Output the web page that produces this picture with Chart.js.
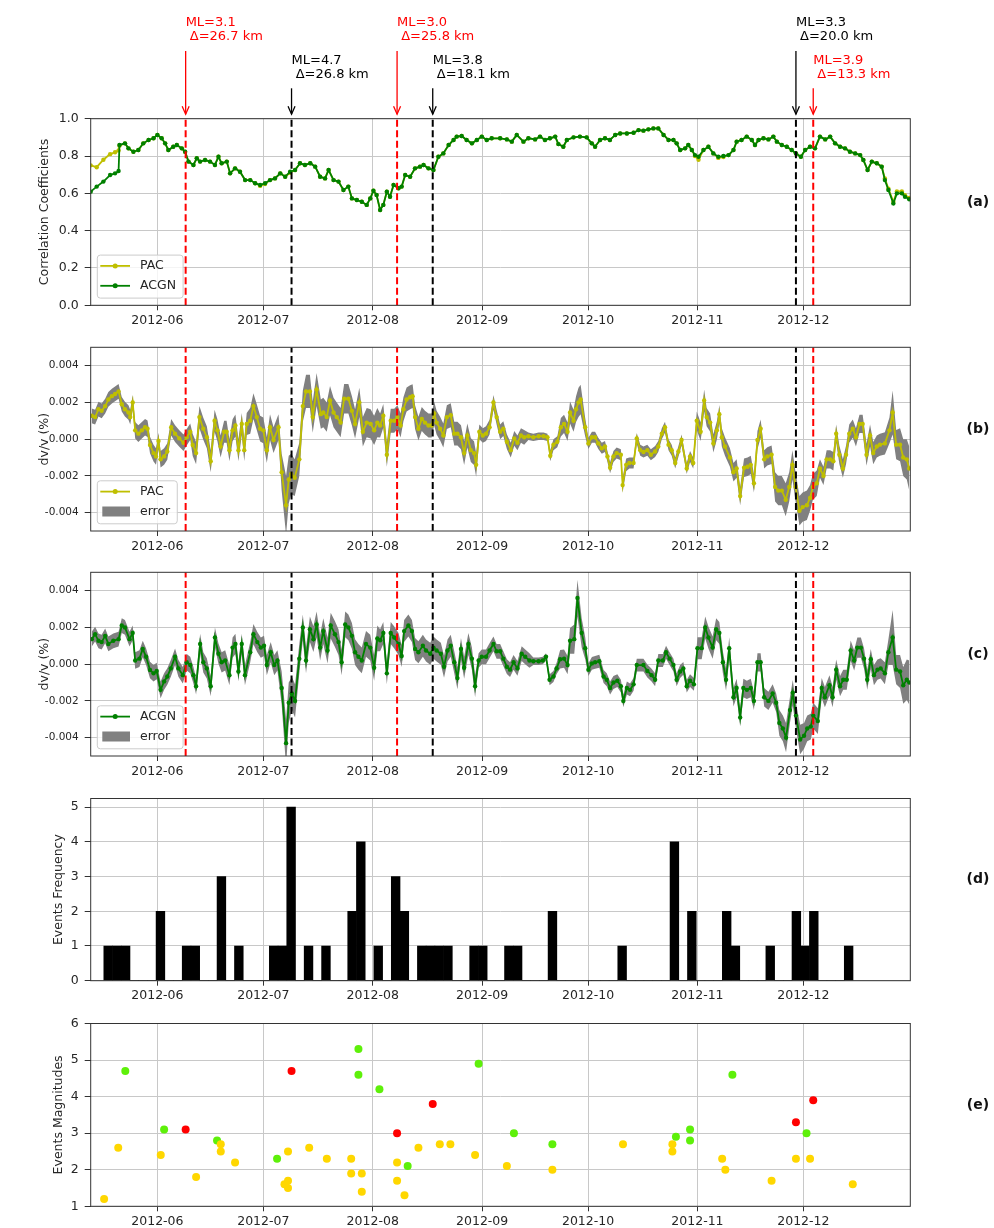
<!DOCTYPE html>
<html><head><meta charset="utf-8">
<script src="https://cdn.jsdelivr.net/npm/chart.js@4.4.1/dist/chart.umd.min.js"></script>
<style>
html,body{margin:0;padding:0;background:#fff;overflow:hidden;width:994px;height:1228px;position:relative}
canvas{position:absolute;left:0}
</style></head><body>
<canvas id="cA"></canvas><canvas id="cB"></canvas><canvas id="cC"></canvas><canvas id="cD"></canvas><canvas id="cE"></canvas>
<script>
// ===== DATA (x = days since 2012-06-01) =====
const xMinDay = -18.9, xMaxDay = 213.3;
const monthTickDays = [0, 30, 61, 92, 122, 153, 183];
const monthTickLabels = ['2012-06','2012-07','2012-08','2012-09','2012-10','2012-11','2012-12'];

// (a) correlation coefficients
const ccDays = [
-18.9,-17.2,-15.3,-13.4,-12.0,-11.0,-10.75,-9.2,-8.2,-6.8,
-5.4,-4.0,-2.5,-1.1,0.0,1.2,2.2,3.1,4.5,5.5,
6.9,7.85,8.8,10.2,11.15,12.1,13.5,14.9,16.3,17.3,
18.2,19.65,20.6,22.0,23.4,24.85,26.3,27.7,29.1,30.5,
31.9,33.3,34.8,36.2,37.6,39.0,40.4,41.8,43.3,44.7,
46.1,47.5,48.5,49.9,51.3,52.7,54.1,55.1,56.5,57.9,
59.3,60.3,61.2,62.1,63.1,64.0,65.0,65.9,66.9,68.3,
69.2,70.2,71.6,73.0,74.4,75.4,76.8,78.2,79.6,81.0,
82.5,83.9,84.8,86.2,87.6,89.1,90.5,91.9,93.3,94.7,
97.1,99.0,100.4,101.8,103.7,105.1,107.0,108.4,109.8,111.2,
112.7,113.6,115.0,116.0,117.9,119.7,121.6,123.05,124.0,125.4,
126.8,128.2,129.7,131.1,133.0,134.9,136.3,137.7,139.1,140.5,
141.9,143.4,144.8,146.2,147.1,148.1,149.5,150.4,151.4,152.3,
153.3,154.7,156.1,157.5,158.9,160.35,161.8,163.2,164.1,165.5,
166.95,168.4,169.3,170.3,171.7,173.1,174.5,175.5,176.9,178.3,
179.7,180.9,182.3,183.5,184.9,186.3,187.7,189.2,190.6,192.0,
193.4,194.8,196.2,197.7,199.1,200.0,201.2,202.4,203.8,205.2,
206.1,207.1,208.5,209.5,210.9,211.8,213.0];
const ccAcgn = [
.609,.636,.663,.698,.707,.72,.859,.868,.841,.823,
.832,.868,.886,.895,.913,.895,.868,.832,.85,.859,
.841,.823,.77,.752,.788,.77,.779,.77,.752,.796,
.761,.77,.707,.734,.716,.671,.671,.654,.645,.654,
.671,.68,.707,.689,.716,.725,.761,.752,.761,.743,
.689,.68,.725,.671,.663,.618,.636,.573,.564,.555,
.538,.573,.614,.591,.511,.538,.609,.582,.645,.627,
.636,.698,.689,.734,.743,.752,.734,.725,.796,.814,
.859,.886,.904,.907,.886,.868,.886,.904,.886,.895,
.895,.889,.877,.913,.877,.895,.889,.904,.886,.895,
.904,.864,.85,.886,.9,.904,.9,.868,.85,.886,
.895,.886,.913,.921,.921,.925,.939,.936,.943,.948,
.948,.913,.886,.886,.868,.832,.841,.859,.832,.805,
.796,.832,.85,.814,.796,.8,.805,.832,.877,.886,
.904,.886,.859,.886,.895,.889,.904,.877,.859,.85,
.832,.814,.796,.832,.85,.841,.904,.889,.904,.868,
.85,.841,.823,.814,.805,.779,.725,.77,.761,.743,
.671,.618,.546,.6,.6,.582,.568];
const ccPac = [
.75,.74,.78,.81,.82,.83,.855,.868,.841,.823,
.832,.868,.886,.895,.913,.895,.868,.832,.85,.859,
.841,.823,.77,.752,.788,.77,.779,.77,.752,.796,
.761,.77,.707,.734,.716,.671,.671,.654,.64,.65,
.671,.68,.707,.689,.71,.725,.761,.752,.761,.743,
.689,.68,.725,.671,.663,.618,.636,.573,.564,.555,
.538,.573,.614,.591,.511,.538,.609,.582,.645,.627,
.636,.698,.689,.734,.743,.752,.734,.725,.796,.814,
.859,.886,.904,.907,.886,.868,.886,.904,.886,.895,
.895,.889,.877,.913,.877,.895,.889,.904,.886,.895,
.904,.864,.85,.886,.9,.904,.9,.868,.85,.886,
.895,.886,.913,.921,.921,.925,.939,.936,.943,.948,
.948,.913,.886,.886,.868,.832,.841,.859,.832,.80,
.78,.832,.85,.814,.79,.795,.805,.832,.877,.886,
.904,.886,.859,.886,.895,.889,.904,.877,.859,.85,
.832,.814,.796,.832,.85,.841,.904,.889,.904,.868,
.85,.841,.823,.814,.805,.779,.725,.77,.761,.743,
.68,.625,.555,.61,.61,.59,.575];

// (b) PAC dv/v (values in units of 0.001 %)
const pacDays = [
-18.6,-17.65,-16.7,-15.8,-14.8,-13.9,-12.9,-12.0,-11.0,-10.1,
-9.2,-8.2,-7.7,-7.0,-6.3,-5.4,-4.4,-3.5,-2.8,-2.1,
-1.1,-0.4,0.3,0.9,1.9,2.8,3.9,5.0,6.2,7.4,
8.3,9.3,10.0,10.96,11.9,13.0,14.0,15.1,16.2,17.0,
17.9,18.9,19.6,20.4,21.3,22.1,22.95,23.9,24.6,25.3,
26.3,27.2,28.15,29.1,30.0,31.0,31.9,32.9,34.3,35.2,
36.45,37.2,37.9,38.9,40.2,41.2,42.1,43.2,44.0,45.1,
46.3,47.0,47.97,48.9,49.9,50.8,51.9,52.9,54.1,55.1,
56.0,57.2,58.2,59.3,60.4,61.4,62.3,63.1,64.0,65.0,
66.1,67.1,68.0,68.9,69.7,70.6,71.6,72.3,73.0,73.95,
74.9,75.8,76.8,77.7,78.4,79.1,80.1,81.0,82.0,83.1,
84.1,85.0,86.0,86.9,87.8,88.8,89.7,90.3,91.2,92.2,
93.1,94.1,95.2,96.1,97.1,98.0,99.0,100.1,101.1,102.0,
103.0,103.9,105.1,106.5,108.0,109.4,110.5,111.3,112.2,113.3,
114.3,115.2,116.2,116.9,117.9,118.6,119.3,119.9,121.2,122.1,
123.1,124.0,124.9,125.9,126.8,127.5,128.25,129.2,130.1,131.3,
131.8,132.8,133.7,134.9,135.8,136.8,137.7,138.8,139.8,141.0,
141.9,142.9,143.8,144.8,145.7,146.7,147.6,148.5,149.96,150.9,
151.8,152.8,153.9,154.9,155.6,156.6,157.5,158.5,159.2,159.9,
160.8,162.2,163.2,164.1,165.1,166.2,167.2,168.1,169.0,170.0,
170.9,171.9,172.8,174.0,175.0,175.9,176.9,178.0,179.0,179.9,
180.8,181.9,182.8,184.0,184.9,185.7,186.8,187.7,188.7,189.6,
190.6,191.5,192.3,193.2,194.2,195.1,196.0,197.0,197.9,198.9,
199.8,200.9,201.9,202.8,203.8,204.7,206.1,207.4,208.3,209.3,
210.4,211.3,212.3,213.0];
const pacDvMilli = [
1.27,1.2,1.63,1.54,1.8,2.16,2.34,2.46,2.6,1.9,
1.63,1.45,1.2,2.0,0.48,0.3,0.48,0.65,0.57,-0.32,
-0.76,-0.94,-0.1,-1.1,-0.94,-0.67,0.65,0.3,0.04,-0.2,
0.1,0.4,-0.32,-0.76,1.2,0.57,0.1,-1.2,1.0,0.48,
-0.4,0.4,0.4,-0.6,0.48,0.74,-0.6,0.83,-0.6,0.83,
1.0,1.8,1.2,0.57,0.48,-0.6,0.65,-0.05,0.65,-1.8,
-3.6,-2.2,-1.9,-2.1,-1.1,1.8,2.6,2.6,1.2,2.7,
1.36,1.45,1.2,2.1,1.45,1.2,0.9,2.2,2.2,1.54,
0.83,2.0,0.4,0.9,0.83,0.48,0.9,0.74,1.27,-0.85,
1.0,1.0,1.2,0.74,1.63,2.16,2.28,2.34,1.2,0.57,
1.1,0.9,0.74,0.74,1.4,0.9,0.57,0.2,1.2,1.3,
0.3,0.3,0.1,-0.76,0.2,-0.6,-0.76,-1.4,0.4,0.2,
0.3,0.65,2.0,1.2,0.4,0.57,-0.14,-0.6,0.04,-0.2,
0.2,0.1,0.16,0.1,0.16,0.16,0.1,-0.9,-0.3,-0.14,
0.65,0.83,0.4,1.45,1.0,1.63,2.0,2.16,0.65,-0.23,
0.1,0.1,-0.23,-0.5,-0.4,-0.94,-1.56,-0.94,-0.76,-0.85,
-2.5,-1.4,-1.3,-1.3,0.04,-0.6,-0.7,-0.6,-0.85,-0.67,
-0.4,0.3,0.65,-0.3,-0.6,-1.3,-0.67,-0.05,-1.6,-0.94,
-1.3,1.0,0.4,2.1,1.2,0.9,-0.23,0.48,1.36,0.1,
-0.4,-1.0,-1.8,-1.6,-3.1,-1.56,-1.5,-1.4,-2.4,-0.05,
0.57,-1.1,-0.94,-0.85,-2.6,-2.8,-2.8,-3.3,-2.6,-1.4,
-2.6,-3.9,-3.7,-3.6,-3.2,-2.6,-2.4,-1.6,-2.0,-1.1,
-1.1,-1.2,0.3,-0.85,-1.6,-0.85,0.3,0.57,0.1,0.83,
0.83,-0.85,0.2,-0.76,-0.4,-0.3,-0.23,0.48,1.45,-0.3,
-0.3,-1.0,-1.1,-1.6];
const pacErrMilli = [
0.4,0.4,0.4,0.4,0.4,0.4,0.4,0.4,0.4,0.4,
0.4,0.4,0.4,0.4,0.45,0.45,0.45,0.45,0.45,0.45,
0.45,0.45,0.45,0.45,0.45,0.45,0.45,0.45,0.45,0.45,
0.45,0.45,0.6,0.6,0.6,0.6,0.6,0.6,0.6,0.6,
0.6,0.6,0.6,0.6,0.6,0.6,0.6,0.6,0.6,0.6,
0.7,0.7,0.7,0.7,0.7,0.7,0.7,0.7,0.7,1.0,
1.6,1.3,1.1,1.0,0.9,0.85,0.9,0.9,0.85,0.9,
0.8,0.8,0.8,0.8,0.8,0.8,0.8,0.8,0.8,0.8,
0.8,0.8,0.8,0.8,0.8,0.8,0.8,0.65,0.65,0.65,
0.65,0.65,0.65,0.65,0.65,0.65,0.65,0.65,0.65,0.65,
0.65,0.65,0.65,0.65,0.65,0.65,0.65,0.65,0.65,0.65,
0.65,0.65,0.65,0.65,0.65,0.65,0.65,0.65,0.4,0.4,
0.4,0.4,0.4,0.4,0.4,0.4,0.4,0.4,0.4,0.4,
0.4,0.4,0.2,0.2,0.2,0.2,0.2,0.3,0.3,0.3,
0.5,0.5,0.5,0.6,0.6,0.7,0.8,0.8,0.5,0.3,
0.3,0.3,0.3,0.3,0.3,0.3,0.3,0.3,0.3,0.3,
0.4,0.35,0.3,0.3,0.3,0.3,0.3,0.3,0.3,0.3,
0.3,0.3,0.3,0.3,0.3,0.3,0.3,0.3,0.3,0.3,
0.3,0.5,0.5,0.6,0.5,0.5,0.5,0.5,0.5,0.5,
0.5,0.5,0.5,0.5,0.5,0.5,0.5,0.5,0.5,0.5,
0.5,0.5,0.5,0.5,0.8,0.8,0.8,0.9,0.8,0.8,
0.8,0.8,0.8,0.8,0.7,0.7,0.7,0.5,0.5,0.5,
0.5,0.5,0.5,0.5,0.5,0.5,0.5,0.5,0.5,0.5,
0.5,0.6,0.6,0.6,0.6,0.6,0.6,0.7,1.2,0.8,
0.9,1.0,1.1,1.2];

// (c) ACGN dv/v (values in units of 0.001 %)
const acgnDays = [
-18.6,-17.65,-16.7,-15.8,-14.8,-13.9,-12.5,-11.0,-10.1,-9.2,
-7.9,-7.0,-6.3,-5.1,-4.15,-3.2,-2.1,-1.1,-0.2,0.9,
1.9,2.8,3.8,5.0,5.95,7.2,8.3,9.3,10.2,10.96,
12.1,13.0,14.0,15.1,16.3,17.3,18.2,19.2,20.4,21.3,
22.1,22.95,23.9,24.8,26.3,27.2,28.3,29.3,30.2,31.0,
32.1,33.1,34.0,35.2,36.45,37.2,38.1,39.0,40.2,41.2,
42.1,43.2,44.2,45.1,46.1,47.0,48.2,49.1,50.3,51.3,
52.2,53.2,54.1,55.1,56.0,56.95,57.9,59.1,60.3,61.4,
62.3,63.1,64.0,65.0,66.1,67.1,68.3,69.2,69.9,71.1,
72.1,73.0,73.95,75.2,76.1,77.3,78.2,79.1,80.3,81.2,
82.2,83.1,84.1,85.0,86.0,86.9,88.1,89.1,90.0,91.0,
91.9,93.1,94.1,95.2,96.1,97.1,98.0,99.0,99.9,100.9,
102.0,103.2,104.2,105.4,106.5,108.0,109.2,110.1,111.1,112.2,
113.1,114.1,115.2,116.2,116.9,118.1,119.0,120.2,121.2,122.1,
123.1,124.0,125.2,126.4,127.3,128.25,129.2,130.3,131.3,132.0,
133.0,133.9,134.9,135.8,137.7,138.8,140.0,141.0,141.9,143.2,
144.1,145.1,146.2,147.1,148.1,149.0,149.96,150.9,152.0,153.0,
154.2,155.2,156.1,157.3,158.3,159.2,160.2,161.1,162.0,163.2,
164.1,165.1,166.0,167.0,168.1,169.0,170.0,170.9,171.9,173.1,
174.3,175.3,176.2,177.2,178.1,179.2,180.0,180.9,182.1,183.2,
184.1,185.1,185.8,187.1,188.2,189.1,190.4,191.3,192.3,193.4,
194.3,195.3,196.4,197.4,198.3,199.3,200.2,201.1,202.1,203.0,
204.0,204.9,206.1,207.1,208.3,209.3,210.4,211.3,212.3,213.0];
const acgnDvMilli = [
1.36,1.63,1.27,1.2,1.54,1.1,1.27,1.36,2.1,2.0,
1.36,1.7,0.2,0.3,0.83,0.4,-0.32,-0.5,-0.37,-1.4,
-0.94,-0.67,-0.23,0.4,-0.23,-0.6,0.1,-0.05,-0.6,-1.2,
1.1,0.1,-0.23,-1.2,1.45,0.57,0.1,0.2,-0.6,0.9,
1.1,-0.4,1.1,-0.6,0.65,1.63,1.2,0.9,1.0,-0.05,
0.65,-0.05,0.2,-1.3,-4.3,-2.1,-1.6,-2.0,0.3,2.0,
0.2,1.9,1.36,2.16,0.9,1.8,0.74,2.1,1.63,1.2,
0.1,2.16,2.0,1.54,0.65,0.4,0.2,1.1,0.9,-0.2,
1.4,1.3,1.7,-0.5,1.7,1.45,1.1,0.44,1.8,2.1,
1.8,0.83,0.65,1.0,0.74,0.57,0.9,0.74,0.57,-0.14,
0.74,1.0,0.1,-0.76,0.83,-0.2,1.1,0.3,-1.2,0.2,
0.4,0.4,0.74,1.1,0.7,0.7,0.3,-0.14,-0.3,0.1,
-0.23,0.57,0.4,0.2,0.16,0.16,0.2,0.4,-0.85,-0.67,
-0.23,0.27,0.3,-0.05,1.27,1.36,3.6,1.7,0.87,-0.3,
0.04,0.1,0.16,-0.67,-0.85,-1.3,-1.0,-0.9,-1.2,-2.0,
-1.3,-1.4,-1.1,-0.05,-0.05,-0.37,-0.6,-0.85,0.2,0.2,
0.65,0.3,-0.05,-0.85,-0.4,-0.23,-1.2,-0.9,-1.1,0.87,
0.87,2.0,1.45,0.9,1.9,1.7,0.1,-0.85,0.87,-1.8,
-1.3,-2.9,-1.3,-1.4,-1.3,-2.0,0.1,0.1,-1.8,-2.0,
-1.6,-2.1,-3.2,-3.5,-4.0,-2.5,-1.56,-2.8,-4.1,-3.9,
-3.5,-3.4,-2.8,-3.1,-1.3,-1.8,-1.15,-1.8,-0.3,-1.2,
-0.85,-0.85,0.74,0.2,0.9,0.9,0.3,-0.85,0.27,-0.6,
-0.3,-0.23,-0.5,0.65,1.45,-0.3,-0.4,-1.15,-0.85,-1.0];
const acgnErrMilli = [
0.4,0.4,0.4,0.4,0.4,0.4,0.4,0.4,0.4,0.4,
0.4,0.4,0.45,0.45,0.45,0.45,0.45,0.45,0.45,0.45,
0.45,0.45,0.45,0.45,0.45,0.45,0.45,0.45,0.45,0.45,
0.55,0.55,0.55,0.55,0.55,0.55,0.55,0.55,0.55,0.55,
0.55,0.55,0.55,0.55,0.55,0.55,0.55,0.55,0.55,0.55,
0.55,0.55,0.55,0.9,1.3,1.1,0.9,0.9,0.8,0.7,
0.7,0.7,0.7,0.7,0.7,0.7,0.7,0.7,0.7,0.7,
0.7,0.7,0.7,0.7,0.7,0.7,0.7,0.7,0.7,0.7,
0.7,0.6,0.6,0.6,0.6,0.6,0.6,0.6,0.6,0.6,
0.6,0.6,0.6,0.6,0.6,0.6,0.6,0.6,0.6,0.6,
0.6,0.6,0.6,0.6,0.6,0.6,0.6,0.6,0.6,0.4,
0.4,0.4,0.4,0.4,0.4,0.4,0.4,0.4,0.4,0.4,
0.4,0.4,0.4,0.4,0.2,0.2,0.2,0.2,0.3,0.3,
0.3,0.5,0.5,0.5,0.7,0.8,1.0,0.8,0.6,0.35,
0.35,0.35,0.35,0.35,0.35,0.35,0.35,0.35,0.35,0.35,
0.35,0.35,0.35,0.35,0.35,0.35,0.35,0.35,0.35,0.35,
0.35,0.35,0.35,0.35,0.35,0.35,0.35,0.35,0.35,0.6,
0.6,0.6,0.6,0.6,0.6,0.6,0.6,0.6,0.6,0.5,
0.5,0.5,0.5,0.5,0.5,0.5,0.5,0.5,0.5,0.5,
0.5,0.5,0.7,0.7,0.8,0.7,0.7,0.7,0.8,0.7,
0.7,0.7,0.7,0.7,0.55,0.55,0.55,0.55,0.55,0.55,
0.55,0.55,0.55,0.55,0.55,0.55,0.55,0.55,0.55,0.55,
0.55,0.55,0.6,0.7,1.5,0.8,0.9,1.0,1.1,1.2];

// (d) event frequency histogram
const histStartDay = -15.18, histBinDays = 2.468;
const histCounts = [
1,1,1,0,0,0,2,0,0,1,
1,0,0,3,0,1,0,0,0,1,
1,5,0,1,0,1,0,0,2,4,
0,1,0,3,2,0,1,1,1,1,
0,0,1,1,0,0,1,1,0,0,
0,2,0,0,0,0,0,0,0,1,
0,0,0,0,0,4,0,2,0,0,
0,2,1,0,0,0,1,0,0,2,
1,2,0,0,0,1];

// (e) event magnitudes
const evDays = [-15.1,-11.1,-9.1,0.95,1.9,8.0,10.96,16.9,17.95,17.95,22.0,33.9,36.0,37.0,37.0,37.0,38.0,43.0,48.0,54.9,
54.9,56.95,56.95,57.9,57.9,62.9,67.9,67.9,67.9,70.0,70.9,73.95,78.0,80.0,83.0,90.0,91.0,99.0,101.0,111.9,
111.9,131.9,145.9,145.9,146.9,150.9,150.9,160.0,160.9,162.9,174.0,180.9,180.9,183.9,184.9,185.8,197.0];
const evMag = [1.2,2.6,4.7,2.4,3.1,3.1,1.8,2.8,2.7,2.5,2.2,2.3,1.6,1.7,1.5,2.5,4.7,2.6,2.3,2.3,
1.9,5.3,4.6,1.9,1.4,4.2,3.0,2.2,1.7,1.3,2.1,2.6,3.8,2.7,2.7,2.4,4.9,2.1,3.0,2.7,
2.0,2.7,2.7,2.5,2.9,3.1,2.8,2.3,2.0,4.6,1.7,3.3,2.3,3.0,2.3,3.9,1.6];
const evClass = ['y','y','g','y','g','r','y','g','y','y','y','g','y','y','y','y','r','y','y','y',
'y','g','g','y','y','g','r','y','y','y','g','y','r','y','y','y','g','y','g','g',
'y','y','y','y','g','g','g','y','y','g','y','r','y','g','y','r','y'];

// marked earthquakes
const quakeDays = [8.0, 38.0, 67.9, 78.0, 180.9, 185.8];
const quakeML = ['3.1','4.7','3.0','3.8','3.3','3.9'];
const quakeDist = ['26.7','26.8','25.8','18.1','20.0','13.3'];
const quakeColor = ['r','k','r','k','k','r'];

// ===== STYLE =====
const FONT = "'DejaVu Sans', sans-serif";
const TXT = '#262626', GRID = '#c8c8c8', SPINE = '#333333';
const PAC_C = '#bfbf00', ACGN_C = '#008000', ERR_C = '#808080';
const LINE_COL = {r:'#ff0000', k:'#000000'};
const EV_COL = {y:'#ffd700', g:'#5ef00a', r:'#ff0000'};
const PLOT_LEFT = 90.7, PLOT_RIGHT = 910.3, W = 994, XAXIS_H = 24;

const PANELS = {
  A:{canvasTop:0,    canvasH:335, top:118.7,  bottom:305.3, ylabel:'Correlation Coefficients', ylabelX:45, tag:'(a)', yFont:12.5},
  B:{canvasTop:335,  canvasH:225, top:343.3,  bottom:531,   ylabel:'dv/v (%)', ylabelX:45, tag:'(b)', yFont:10.5},
  C:{canvasTop:560,  canvasH:225, top:568.3,  bottom:756,   ylabel:'dv/v (%)', ylabelX:45, tag:'(c)', yFont:10.5},
  D:{canvasTop:785,  canvasH:225, top:794,    bottom:980.7, ylabel:'Events Frequency', ylabelX:59, tag:'(d)', yFont:12.5},
  E:{canvasTop:1010, canvasH:225, top:1018.3, bottom:1206.3, ylabel:'Events Magnitudes', ylabelX:59, tag:'(e)', yFont:12.5}
};

function mkXScale(){
  return {
    type:'linear', min:xMinDay, max:xMaxDay, offset:false, bounds:'data',
    afterBuildTicks(s){ s.ticks = monthTickDays.map(v=>({value:v})); },
    afterFit(s){ s.height = XAXIS_H; },
    ticks:{autoSkip:false, maxRotation:0, minRotation:0, padding:3, color:TXT, font:{family:FONT, size:12.5},
      callback(v){ const i = monthTickDays.indexOf(v); return i < 0 ? '' : monthTickLabels[i]; }},
    grid:{color:GRID, lineWidth:1, drawTicks:true, tickLength:5, tickColor:SPINE, tickWidth:1, offset:false},
    border:{display:false}
  };
}
function mkYScale(p, min, max, vals, labels){
  return {
    type:'linear', min, max, bounds:'data',
    afterBuildTicks(s){ s.ticks = vals.map(v=>({value:v})); },
    afterFit(s){ s.width = PLOT_LEFT; },
    ticks:{padding:6, color:TXT, font:{family:FONT, size:p.yFont}, callback(v, i){ return labels[i]; }},
    grid:{color:GRID, lineWidth:1, drawTicks:true, tickLength:6, tickColor:SPINE, tickWidth:1},
    border:{display:false}
  };
}

function roundRect(ctx,x,y,w,h,r){
  ctx.beginPath(); ctx.moveTo(x+r,y); ctx.arcTo(x+w,y,x+w,y+h,r); ctx.arcTo(x+w,y+h,x,y+h,r);
  ctx.arcTo(x,y+h,x,y,r); ctx.arcTo(x,y,x+w,y,r); ctx.closePath();
}
function drawLegend(ctx, ca, items){
  ctx.save();
  ctx.font = `12.5px ${FONT}`;
  const left = ca.left + 6.6, bottom = ca.bottom - 7.2, h = 43;
  const textX = left + 42.7;
  const tw = Math.max(...items.map(it=>ctx.measureText(it.label).width));
  const w = textX - left + tw + 7;
  roundRect(ctx, left, bottom-h, w, h, 3);
  ctx.fillStyle = 'rgba(255,255,255,0.8)'; ctx.fill();
  ctx.strokeStyle = '#cccccc'; ctx.lineWidth = 1; ctx.stroke();
  const rows = [bottom-32.2, bottom-12.3];
  items.forEach((it,i)=>{
    const y = rows[i];
    if(it.kind === 'line'){
      ctx.strokeStyle = it.color; ctx.lineWidth = 1.8; ctx.beginPath();
      ctx.moveTo(left+3, y); ctx.lineTo(left+32.7, y); ctx.stroke();
      ctx.fillStyle = it.color; ctx.beginPath(); ctx.arc(left+17.9, y, 2.5, 0, Math.PI*2); ctx.fill();
    } else {
      ctx.fillStyle = it.color; ctx.fillRect(left+5, y-5, 27.7, 10);
    }
    ctx.fillStyle = TXT; ctx.textBaseline = 'middle'; ctx.textAlign = 'left';
    ctx.fillText(it.label, textX, y);
  });
  ctx.restore();
}

function decoPlugin(p, opts){
  return {
    id:'deco',
    afterDatasetsDraw(chart){
      const {ctx, chartArea:ca, scales:{x}} = chart;
      if(opts.eventLines){
        ctx.save(); ctx.beginPath(); ctx.rect(ca.left, ca.top, ca.right-ca.left, ca.bottom-ca.top); ctx.clip();
        quakeDays.forEach((d,i)=>{
          const px = x.getPixelForValue(d);
          ctx.strokeStyle = LINE_COL[quakeColor[i]]; ctx.lineWidth = 2; ctx.setLineDash([7,3.5]);
          ctx.beginPath(); ctx.moveTo(px, ca.bottom); ctx.lineTo(px, ca.top); ctx.stroke();
        });
        ctx.restore();
      }
      if(opts.legend) drawLegend(ctx, ca, opts.legend);
    },
    afterDraw(chart){
      const {ctx, chartArea:ca, scales:{x}} = chart;
      ctx.save();
      ctx.strokeStyle = SPINE; ctx.lineWidth = 1;
      ctx.strokeRect(ca.left, ca.top, ca.right-ca.left, ca.bottom-ca.top);
      const cy = (ca.top+ca.bottom)/2;
      ctx.save(); ctx.translate(p.ylabelX, cy); ctx.rotate(-Math.PI/2);
      ctx.font = `12.5px ${FONT}`; ctx.fillStyle = TXT; ctx.textAlign = 'center'; ctx.textBaseline = 'middle';
      ctx.fillText(p.ylabel, 0, 0); ctx.restore();
      ctx.font = `bold 14px ${FONT}`; ctx.fillStyle = '#111'; ctx.textAlign = 'center'; ctx.textBaseline = 'middle';
      ctx.fillText(p.tag, 978, cy - 10);
      if(opts.annotations){
        quakeDays.forEach((d,i)=>{
          const px = x.getPixelForValue(d);
          const col = LINE_COL[quakeColor[i]];
          const high = i % 2 === 0;
          const y1 = high ? 23 : 60.3;
          ctx.fillStyle = col; ctx.font = `13px ${FONT}`; ctx.textAlign = 'left'; ctx.textBaseline = 'middle';
          ctx.fillText('ML=' + quakeML[i], px, y1);
          ctx.fillText(' \u0394=' + quakeDist[i] + ' km', px, y1 + 14);
          const ys = high ? 51 : 88.3, tip = ca.top - 4.5;
          ctx.strokeStyle = col; ctx.lineWidth = 1.3; ctx.setLineDash([]);
          ctx.beginPath(); ctx.moveTo(px, ys); ctx.lineTo(px, tip); ctx.stroke();
          ctx.beginPath(); ctx.moveTo(px-3.5, tip-8); ctx.lineTo(px, tip); ctx.lineTo(px+3.5, tip-8); ctx.stroke();
        });
      }
      ctx.restore();
    }
  };
}

function baseOptions(p, yScale){
  return {
    responsive:false, maintainAspectRatio:false, animation:false, events:[],
    layout:{padding:{left:0, right:W-PLOT_RIGHT, top:p.top-p.canvasTop, bottom:(p.canvasTop+p.canvasH)-p.bottom-XAXIS_H}},
    plugins:{legend:{display:false}, tooltip:{enabled:false}},
    scales:{x:mkXScale(), y:yScale}
  };
}
function setupCanvas(id, p){
  const c = document.getElementById(id);
  c.width = W; c.height = p.canvasH; c.style.top = p.canvasTop + 'px';
  c.style.width = W + 'px'; c.style.height = p.canvasH + 'px';
  return c;
}
function lineDs(days, vals, color, order, scale){
  return {data: days.map((d,i)=>({x:d, y:vals[i]*scale})), borderColor:color, backgroundColor:color,
    borderWidth:1.8, pointRadius:2.2, pointBorderWidth:0, pointBackgroundColor:color, tension:0, fill:false, order};
}
function bandDs(days, vals, errs, sign, fill){
  return {data: days.map((d,i)=>({x:d, y:(vals[i] + sign*errs[i])/1000})), borderWidth:0, pointRadius:0,
    backgroundColor:ERR_C, borderColor:ERR_C, fill, order:3, tension:0};
}

new Chart(setupCanvas('cA', PANELS.A), {
  type:'line',
  data:{datasets:[lineDs(ccDays, ccPac, PAC_C, 2, 1), lineDs(ccDays, ccAcgn, ACGN_C, 1, 1)]},
  options: baseOptions(PANELS.A, mkYScale(PANELS.A, 0, 1, [0,0.2,0.4,0.6,0.8,1.0], ['0.0','0.2','0.4','0.6','0.8','1.0'])),
  plugins:[decoPlugin(PANELS.A, {eventLines:true, annotations:true,
    legend:[{kind:'line', color:PAC_C, label:'PAC'}, {kind:'line', color:ACGN_C, label:'ACGN'}]})]
});

const dvTicks = [-0.004,-0.002,0,0.002,0.004];
const dvLabels = ['-0.004','-0.002','0.000','0.002','0.004'];
new Chart(setupCanvas('cB', PANELS.B), {
  type:'line',
  data:{datasets:[bandDs(pacDays, pacDvMilli, pacErrMilli, 1, '+1'), bandDs(pacDays, pacDvMilli, pacErrMilli, -1, false),
    lineDs(pacDays, pacDvMilli, PAC_C, 1, 0.001)]},
  options: baseOptions(PANELS.B, mkYScale(PANELS.B, -0.005, 0.005, dvTicks, dvLabels)),
  plugins:[decoPlugin(PANELS.B, {eventLines:true,
    legend:[{kind:'line', color:PAC_C, label:'PAC'}, {kind:'patch', color:ERR_C, label:'error'}]})]
});
new Chart(setupCanvas('cC', PANELS.C), {
  type:'line',
  data:{datasets:[bandDs(acgnDays, acgnDvMilli, acgnErrMilli, 1, '+1'), bandDs(acgnDays, acgnDvMilli, acgnErrMilli, -1, false),
    lineDs(acgnDays, acgnDvMilli, ACGN_C, 1, 0.001)]},
  options: baseOptions(PANELS.C, mkYScale(PANELS.C, -0.005, 0.005, dvTicks, dvLabels)),
  plugins:[decoPlugin(PANELS.C, {eventLines:true,
    legend:[{kind:'line', color:ACGN_C, label:'ACGN'}, {kind:'patch', color:ERR_C, label:'error'}]})]
});
new Chart(setupCanvas('cD', PANELS.D), {
  type:'bar',
  data:{datasets:[{data: histCounts.map((c,k)=>({x: histStartDay + (k+0.5)*histBinDays, y:c})),
    backgroundColor:'#000', borderWidth:0, barPercentage:1, categoryPercentage:1, grouped:false}]},
  options: baseOptions(PANELS.D, mkYScale(PANELS.D, 0, 5.25, [0,1,2,3,4,5], ['0','1','2','3','4','5'])),
  plugins:[decoPlugin(PANELS.D, {})]
});
new Chart(setupCanvas('cE', PANELS.E), {
  type:'scatter',
  data:{datasets:[{data: evDays.map((d,i)=>({x:d, y:evMag[i]})),
    pointBackgroundColor: evClass.map(c=>EV_COL[c]), pointBorderWidth:0, pointRadius:4, showLine:false}]},
  options: baseOptions(PANELS.E, mkYScale(PANELS.E, 1, 6, [1,2,3,4,5,6], ['1','2','3','4','5','6'])),
  plugins:[decoPlugin(PANELS.E, {})]
});
</script>
</body></html>
